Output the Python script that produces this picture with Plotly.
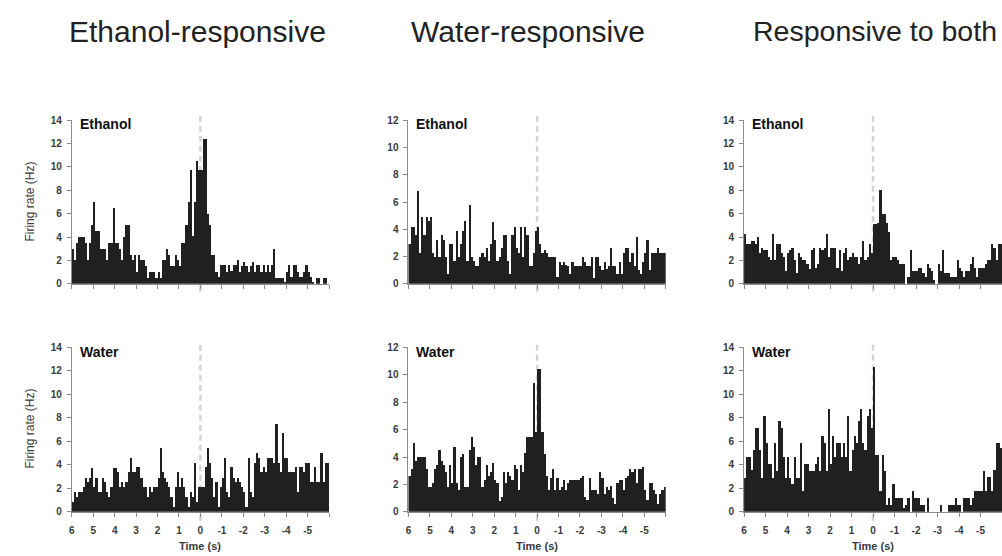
import plotly.graph_objects as go

W, H = 1002, 556
BIN = 0.1  # bin width in seconds

col_titles = ["Ethanol-responsive", "Water-responsive", "Responsive to both"]
row_labels = ["Ethanol", "Water"]
x_tick_vals = [6, 5, 4, 3, 2, 1, 0, -1, -2, -3, -4, -5, -6]
x_tick_text = ["6", "5", "4", "3", "2", "1", "0", "-1", "-2", "-3", "-4", "-5", ""]
y_max = [14, 12, 14]
y_title = "Firing rate (Hz)"
x_title = "Time (s)"

# firing rate per 0.1 s bin, from t=6 down to 0 (pre) and from 0 down to -6 (post)
ethresp_ethanol_pre = [3, 2, 3.5, 4, 4, 4, 3.5, 2, 3.5, 5,
                       7, 4.5, 4.5, 3, 3, 3, 2, 3.5, 3.5, 6.5,
                       3.5, 3.5, 3, 2, 4, 5, 5, 2.5, 2, 2.5,
                       1, 2.5, 2, 2, 1.5, 0.5, 1, 1, 1, 0.5,
                       1, 0.5, 2, 2, 3, 2.5, 1.5, 1.5, 2.5, 2,
                       1.5, 3.5, 3.5, 5, 7, 9.7, 4.1, 7, 10.5, 9.7]
ethresp_ethanol_post = [9.7, 12.4, 12.4, 6, 5, 2.5, 2.5, 1.0, 0.6, 1.6,
                        1.6, 1.6, 1.0, 1.6, 1.1, 1.6, 1.6, 2.0, 1.0, 1.5,
                        1.9, 1.5, 1.0, 1.5, 1.9, 1.0, 1.6, 1.6, 1.0, 1.6,
                        1.0, 1.6, 1.0, 1.6, 3.0, 0.5, 0.5, 0.5, 0.5, 0.2,
                        1.0, 1.6, 0.6, 1.6, 1.6, 1.0, 0.6, 0.6, 1.0, 1.6,
                        1.0, 0.6, 0.2, 0, 0.5, 0.5, 0, 0.5, 0.5, 0]
ethresp_water_pre = [0.8, 1.7, 1.3, 1.7, 1.7, 2.1, 2.9, 2.5, 2.9, 3.7,
                     2.1, 2.9, 1.7, 1.7, 2.9, 2.5, 1.7, 1.3, 2.1, 3.7,
                     3.7, 3.4, 2.1, 2.5, 2.1, 2.5, 3.4, 4.6, 3.4, 3.4,
                     3.8, 3.8, 2.9, 2.1, 2.1, 1.3, 2.1, 1.7, 2.1, 2.1,
                     2.9, 5.4, 3.4, 2.9, 2.5, 2.1, 1.3, 0.4, 2.1, 3.4,
                     2.1, 2.9, 2.1, 1.3, 0.4, 1.7, 1.3, 4.2, 0.8, 2.1]
ethresp_water_post = [2.1, 2.1, 3.8, 5.4, 4.2, 2.9, 1.3, 2.5, 0.4, 2.1,
                      2.9, 4.6, 1.7, 1.3, 3.8, 2.9, 2.5, 2.9, 2.5, 2.1,
                      1.7, 0.4, 4.6, 1.7, 1.3, 4.2, 5.0, 4.6, 3.4, 3.8,
                      3.4, 4.6, 4.6, 4.6, 4.2, 7.5, 4.2, 3.4, 6.7, 4.6,
                      4.6, 3.4, 3.4, 3.4, 3.8, 1.7, 3.8, 3.8, 3.4, 4.2,
                      4.2, 2.5, 2.5, 3.8, 2.5, 2.5, 5.0, 2.5, 4.2, 4.2]
watresp_ethanol_pre = [2.9, 4.2, 4.2, 3.6, 6.8, 2.3, 4.9, 3.6, 4.9, 4.6,
                       4.9, 2.3, 2.0, 3.2, 2.0, 3.6, 3.2, 2.0, 0.7, 2.9,
                       2.9, 1.7, 3.9, 2.0, 2.9, 3.9, 4.6, 1.7, 5.8, 2.0,
                       1.7, 1.3, 1.3, 2.0, 2.3, 2.0, 2.6, 1.7, 2.9, 4.5,
                       3.2, 1.7, 2.0, 2.6, 3.6, 3.6, 1.7, 0.7, 3.6, 4.2,
                       2.6, 2.3, 4.2, 2.0, 4.2, 3.6, 1.3, 1.3, 2.3, 3.9]
watresp_ethanol_post = [4.2, 2.9, 2.3, 2.5, 2.3, 2.0, 2.0, 2.0, 2.0, 0.5,
                        1.6, 1.4, 1.6, 1.4, 1.3, 0.7, 1.6, 1.3, 1.3, 1.3,
                        1.3, 2.0, 1.6, 1.3, 1.3, 2.0, 0.4, 2.0, 2.0, 1.3,
                        1.0, 1.6, 1.1, 1.3, 2.6, 1.3, 1.3, 0.7, 1.6, 0.7,
                        2.3, 2.6, 2.6, 1.6, 2.3, 1.3, 3.4, 1.0, 0.7, 1.6,
                        2.3, 3.2, 1.0, 2.3, 2.3, 2.3, 2.6, 2.3, 2.3, 2.3]
watresp_water_pre = [2.6, 3.1, 5.0, 3.7, 4.0, 4.0, 4.0, 4.0, 3.1, 1.8,
                     1.8, 2.1, 3.1, 3.4, 4.5, 3.7, 3.4, 2.9, 1.8, 3.4,
                     2.1, 4.7, 2.1, 1.6, 4.0, 4.2, 1.8, 1.8, 4.5, 5.5,
                     4.7, 3.4, 4.0, 4.0, 1.8, 2.3, 3.4, 2.6, 2.9, 3.6,
                     2.3, 2.1, 0.8, 1.1, 2.9, 2.1, 2.9, 2.6, 2.3, 3.4,
                     3.1, 1.6, 3.4, 2.9, 4.3, 5.5, 5.5, 5.5, 9.4, 5.8]
watresp_water_post = [10.4, 10.4, 5.8, 4.2, 2.6, 1.6, 2.5, 3.1, 1.6, 2.5,
                      1.6, 1.8, 2.3, 1.6, 2.1, 2.3, 2.3, 2.3, 2.3, 2.3,
                      2.5, 2.6, 1.1, 0.9, 2.5, 1.6, 1.6, 1.6, 1.3, 2.9,
                      2.5, 1.3, 1.8, 1.6, 1.9, 1.0, 0.6, 2.1, 2.3, 2.3,
                      1.6, 2.5, 2.6, 3.1, 2.9, 3.1, 2.1, 3.1, 3.1, 3.3,
                      1.6, 0.9, 2.1, 2.1, 1.6, 1.3, 0.6, 1.3, 1.6, 1.8]
both_ethanol_pre = [4.3, 3.4, 3.4, 3.7, 3.7, 3.4, 4.0, 2.6, 3.1, 2.9,
                    2.9, 2.3, 2.0, 4.3, 2.0, 3.4, 3.4, 2.6, 2.3, 1.1,
                    2.6, 2.9, 3.1, 2.0, 0.9, 2.6, 2.3, 2.0, 2.0, 1.7,
                    1.3, 2.9, 3.1, 1.4, 1.7, 3.1, 2.9, 3.1, 4.3, 2.3,
                    3.1, 3.1, 3.1, 1.4, 2.9, 1.1, 2.6, 3.1, 2.0, 2.3,
                    2.6, 2.3, 2.3, 1.7, 2.3, 3.7, 2.0, 2.3, 3.4, 2.6]
both_ethanol_post = [5.1, 5.1, 5.2, 8.0, 6.0, 6.0, 5.2, 4.4, 2.0, 2.3,
                     2.3, 2.0, 1.7, 1.7, 1.7, 0, 0.6, 2.9, 1.1, 1.1,
                     1.1, 1.4, 1.4, 0.9, 0.6, 1.7, 1.4, 1.1, 0.3, 0,
                     1.7, 1.1, 2.9, 0.9, 0.9, 0.9, 0.6, 0.6, 0.6, 2.0,
                     1.4, 1.1, 0.6, 1.1, 1.1, 1.7, 2.3, 1.4, 0.6, 1.4,
                     1.4, 1.4, 1.7, 2.0, 2.0, 3.4, 3.1, 2.0, 3.4, 3.4]
both_water_pre = [2.9, 4.7, 4.7, 3.6, 5.3, 7.1, 7.1, 5.3, 2.9, 8.2,
                  5.9, 4.1, 4.1, 2.9, 5.9, 3.5, 7.7, 7.1, 4.7, 2.9,
                  4.7, 2.9, 2.4, 4.7, 2.9, 2.9, 5.9, 1.8, 4.1, 4.1,
                  3.5, 3.5, 3.5, 4.1, 4.7, 3.5, 6.5, 5.9, 3.5, 8.8,
                  4.1, 6.5, 4.7, 5.9, 5.9, 4.7, 5.9, 4.7, 8.2, 3.5,
                  5.3, 6.5, 5.9, 7.7, 8.8, 5.9, 5.3, 8.2, 8.8, 7.1]
both_water_post = [12.3, 4.8, 4.8, 1.8, 4.8, 3.5, 0.6, 1.2, 0.6, 2.4,
                   1.2, 1.2, 1.2, 1.2, 0.3, 0.6, 1.2, 0, 1.8, 1.2,
                   1.2, 1.2, 0.6, 0.6, 0, 1.2, 0, 0, 0, 0,
                   0, 0.6, 0, 0, 0, 0.6, 0.6, 0.6, 1.2, 0.6,
                   0.6, 0, 1.2, 1.2, 1.2, 0.6, 1.2, 1.8, 1.8, 1.8,
                   1.8, 3.5, 1.8, 3.0, 3.0, 1.8, 3.6, 5.9, 5.9, 5.4]

panels = [
    [(ethresp_ethanol_pre, ethresp_ethanol_post),
     (watresp_ethanol_pre, watresp_ethanol_post),
     (both_ethanol_pre, both_ethanol_post)],
    [(ethresp_water_pre, ethresp_water_post),
     (watresp_water_pre, watresp_water_post),
     (both_water_pre, both_water_post)],
]

# ---- styling / geometry (pixels) ----
FONT = "Liberation Sans, Arial, Helvetica, sans-serif"
BAR = "#221f20"
AX = "#8a8a8a"
TICKC = "#3a3a3a"
DASH = "#d4d4d4"
col_px = [(69, 327), (406.7, 664.7), (743.3, 1002)]
row_px = [(116.7, 284), (349, 517)]
dash_px = [(108, 292), (342, 526)]
col_zero_px = [198, 536, 873]
title_px = [(195, 26), (527, 26), (875, 26)]
title_size = [30, 30, 28.5]
label_x_px = [75, 412, 749]
label_y_px = [121, 354]
ytitle_px = [(27, 200), (27, 432)]
xtitle_y_px = 552


def px(x, y):
    return x / W, 1 - y / H


fig = go.Figure()
layout = dict(
    width=W, height=H, autosize=False,
    margin=dict(l=0, r=0, t=0, b=0),
    paper_bgcolor="white", plot_bgcolor="white",
    bargap=0, bargroupgap=0,
    showlegend=False, font=dict(family=FONT, color=TICKC),
)
shapes, annotations = [], []

for r in range(2):
    for c in range(3):
        n = r * 3 + c + 1
        xa = "x" if n == 1 else f"x{n}"
        ya = "y" if n == 1 else f"y{n}"
        pre, post = panels[r][c]
        xs = [BIN * (len(pre) - i) - BIN / 2 for i in range(len(pre))]
        xs += [-BIN / 2 - BIN * i for i in range(len(post))]
        ys = list(pre) + list(post)
        fig.add_trace(go.Bar(
            x=xs, y=ys, xaxis=xa, yaxis=ya,
            marker=dict(color=BAR, line=dict(width=0)),
            hoverinfo="skip", showlegend=False,
        ))
        layout["xaxis" if n == 1 else f"xaxis{n}"] = dict(
            domain=[col_px[c][0] / W, min(col_px[c][1] / W, 1.0)],
            range=[6, -6], anchor=ya,
            tickmode="array", tickvals=x_tick_vals, ticktext=x_tick_text,
            showticklabels=(r == 1),
            ticks="outside", ticklen=4, tickwidth=1, tickcolor=AX,
            showline=True, linecolor=AX, linewidth=1,
            showgrid=False, zeroline=False, fixedrange=True,
            ticklabelstandoff=5,
            tickfont=dict(family=FONT, size=10, color=TICKC, weight="bold"),
        )
        layout["yaxis" if n == 1 else f"yaxis{n}"] = dict(
            domain=[1 - row_px[r][1] / H, 1 - row_px[r][0] / H],
            range=[0, y_max[c]], anchor=xa,
            tickmode="array", tickvals=list(range(0, y_max[c] + 1, 2)),
            ticks="outside", ticklen=4, tickwidth=1, tickcolor=AX,
            showline=True, linecolor=AX, linewidth=1,
            showgrid=False, zeroline=False, fixedrange=True,
            ticklabelstandoff=3,
            tickfont=dict(family=FONT, size=10, color=TICKC, weight="bold"),
        )
        # dashed line at t = 0
        shapes.append(dict(
            type="line", xref=xa, yref="paper", x0=0, x1=0,
            y0=1 - dash_px[r][1] / H, y1=1 - dash_px[r][0] / H,
            line=dict(color=DASH, width=2.5, dash="6px,4px"), layer="below",
        ))
        # row label
        lx, ly = px(label_x_px[c], label_y_px[r])
        annotations.append(dict(
            text=row_labels[r], x=lx, y=ly, xref="paper", yref="paper",
            xanchor="left", yanchor="middle", showarrow=False,
            font=dict(family=FONT, size=14, color="#111", weight="bold"),
        ))

for c in range(3):
    tx, ty = px(*title_px[c])
    annotations.append(dict(
        text=col_titles[c], x=tx, y=ty, xref="paper", yref="paper",
        xanchor="center", yanchor="middle", showarrow=False,
        font=dict(family=FONT, size=title_size[c], color="#222"),
    ))
    tx, ty = px(col_zero_px[c], xtitle_y_px)
    annotations.append(dict(
        text=x_title, x=tx, y=ty, xref="paper", yref="paper",
        xanchor="center", yanchor="middle", showarrow=False,
        font=dict(family=FONT, size=11, color=TICKC, weight="bold"),
    ))

for r in range(2):
    tx, ty = px(*ytitle_px[r])
    annotations.append(dict(
        text=y_title, x=tx, y=ty, xref="paper", yref="paper",
        xanchor="center", yanchor="middle", showarrow=False, textangle=-90,
        font=dict(family=FONT, size=12, color=TICKC),
    ))

layout["shapes"] = shapes
layout["annotations"] = annotations
fig.update_layout(**layout)
fig.write_html(
    "out.html",
    config={"displayModeBar": False, "staticPlot": True},
    post_script="document.body.style.margin='0';document.body.style.overflow='hidden';",
)
